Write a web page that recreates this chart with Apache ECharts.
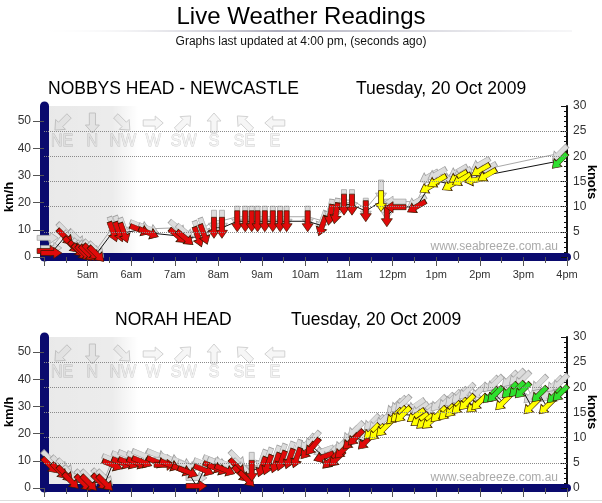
<!DOCTYPE html>
<html>
<head>
<meta charset="utf-8">
<script src="https://cdn.jsdelivr.net/npm/echarts/dist/echarts.min.js"></script>
<style>
html,body{margin:0;padding:0;background:#fff;}
#chart{width:602px;height:503px;}
</style>
</head>
<body>
<div id="chart"></div>
<script>
// ---------- DATA ----------
const hourTicks = [240, 300, 360, 420, 480, 540, 600, 660, 720, 780, 840, 900, 960];
const knotGrid = [5, 10, 15, 20, 25];
const compassLabels = ['NE', 'N', 'NW', 'W', 'SW', 'S', 'SE', 'E'];
const compassDeg = [45, 0, 315, 270, 225, 180, 135, 90];

// NOBBYS HEAD - NEWCASTLE (knots, wind-from direction in degrees)
const nobbysTime = ['4:05','4:10','4:29','4:38','4:45','4:50','4:55','5:00','5:05','5:12',
  '5:35','5:43','5:50','6:12','6:24',
  '7:04','7:14','7:32','7:40','7:54','8:05',
  '8:26','8:37','8:46','8:54','9:04','9:15','9:25','9:34',
  '10:03','10:23','10:34','10:42','10:53','11:04','11:23',
  '11:44','11:52','12:04','12:33',
  '12:50','13:01','13:21','13:30','13:35','13:53','14:01','14:10',
  '15:50'];
const nobbysAvg = [1.2,0.8,4.0,2.4,1.6,1.0,0.8,0.8,1.0,0.6,
  5.0,5.0,4.8,5.4,4.8,
  4.2,3.8,4.0,4.5,5.8,5.8,
  7.1,7.1,7.1,7.1,7.1,7.1,7.1,7.1,
  7.1,6.2,8.4,8.7,10.4,10.4,9.1,
  11.1,8.1,9.9,10.0,
  13.9,15.1,14.4,15.9,15.4,15.3,17.3,16.3,
  19.1];
const nobbysGust = [3.8,1.8,5.2,3.6,3.8,2.0,1.6,1.6,1.8,1.4,
  6.0,6.2,5.8,6.2,5.6,
  5.8,5.0,5.2,5.8,7.2,7.2,
  8.0,8.0,8.0,8.0,8.0,8.0,8.0,8.0,
  8.0,7.2,9.4,9.6,11.3,11.3,9.6,
  13.2,9.4,11.0,11.0,
  16.0,16.5,16.0,17.0,16.5,16.0,18.5,17.5,
  20.6];
const nobbysDir = [270,270,315,315,315,315,315,315,315,315,
  340,340,340,292,292,
  310,310,340,340,0,0,
  0,0,0,0,0,0,0,0,
  0,20,10,10,0,0,0,
  0,0,90,60,
  60,60,60,60,60,80,60,60,
  45];

// NORAH HEAD
const norahTime = ['4:08','4:21','4:29','4:37','4:54','5:02','5:17','5:24',
  '5:34','5:47','5:56','6:08','6:15','6:35','6:46','6:53',
  '7:10','7:18','7:30','7:40','7:53','7:59','8:09',
  '8:26','8:31','8:39','8:46',
  '9:00','9:08','9:19','9:27','9:38','9:48',
  '10:03','10:10','10:25','10:34','10:43','10:51','11:02','11:09','11:23',
  '11:31','11:38','11:48',
  '12:02','12:08','12:14','12:32','12:37','12:44','12:52',
  '13:03','13:14','13:23','13:32','13:42','13:53','13:59',
  '14:15','14:21','14:32','14:41','14:51','14:59','15:11','15:22','15:32','15:43','15:51'];
const norahAvg = [4.5,3.4,2.8,1.4,1.0,1.0,1.2,1.0,
  4.6,5.0,5.0,5.0,5.2,5.2,4.6,4.6,
  3.6,3.2,0.4,3.6,4.2,3.8,3.6,
  4.2,2.8,1.8,3.4,
  4.2,4.6,5.0,5.4,5.8,6.0,
  7.4,8.2,6.2,5.4,5.8,7.4,9.2,10.0,9.2,
  11.2,11.0,11.8,
  14.2,14.6,14.6,14.4,13.6,13.2,13.2,
  14.6,15.0,15.6,16.2,17.0,16.4,17.0,
  18.4,18.6,17.0,19.4,19.6,19.4,16.2,18.6,16.2,18.4,18.8];
const norahGust = [5.8,4.8,4.2,2.8,2.0,2.0,2.2,2.0,
  5.6,6.2,6.4,6.2,6.6,6.6,5.6,5.8,
  5.0,4.4,2.0,4.8,5.4,5.0,4.8,
  5.8,4.2,3.4,5.0,
  5.6,6.0,6.4,6.8,7.2,7.6,
  9.0,9.6,7.4,6.8,7.2,8.8,10.6,11.6,10.6,
  13.0,12.8,13.6,
  16.0,16.6,16.8,16.4,15.6,15.2,15.4,
  16.8,17.2,17.8,18.4,19.2,18.6,19.2,
  20.6,20.8,19.2,21.6,22.0,21.6,18.4,20.8,18.6,20.6,21.0];
const norahDir = [315,315,315,315,315,315,315,315,
  292,292,292,292,292,292,270,292,
  292,292,270,292,292,292,292,
  315,315,315,0,
  20,20,20,20,20,20,
  40,40,70,45,45,45,45,45,45,
  45,45,45,
  45,45,45,55,55,50,50,
  45,45,45,45,45,50,45,
  45,45,45,45,45,45,45,45,45,45,45];

// ---------- BUILD ----------
const KMH_PER_KNOT = 1.852;
const arrowPath = 'path://M5.5,0 L11,8 L8,8 L8,21 L3,21 L3,8 L0,8 Z';
function toMin(s) { const p = s.split(':'); return (+p[0]) * 60 + (+p[1]); }
function speedColor(k) { return k >= 18 ? '#2ee02e' : (k >= 11 ? '#ffff00' : '#e00a0a'); }
function rot(d) { return -(d + 180); }
function hourLabel(v) {
  const h = v / 60;
  if (h < 12) return h + 'am';
  if (h === 12) return '12pm';
  return (h - 12) + 'pm';
}

const grids = [
  { left: 44, right: 35, top: 106, height: 151, containLabel: false, outerBoundsMode: 'none' },
  { left: 44, right: 35, top: 337, height: 151, containLabel: false, outerBoundsMode: 'none' }
];

function xAxisFor(i) {
  return {
    type: 'value', gridIndex: i, min: hourTicks[0], max: hourTicks[hourTicks.length - 1],
    interval: 60, offset: 2, z: 1,
    axisLine: { lineStyle: { color: '#0a0a6e', width: 8 } },
    axisTick: { length: 9, lineStyle: { color: '#555', width: 1 } },
    minorTick: { show: true, splitNumber: 2, length: 6, lineStyle: { color: '#555', width: 1 } },
    axisLabel: { show: i === 0, showMinLabel: false, formatter: hourLabel, color: '#333', fontSize: 11,
      fontFamily: 'Liberation Sans, Arial, sans-serif', margin: 10 },
    splitLine: { show: false }
  };
}
function kmhAxisFor(i) {
  return {
    type: 'value', gridIndex: i, position: 'left', min: 0, max: 30 * KMH_PER_KNOT, interval: 10, z: 1,
    axisLine: { show: true, lineStyle: { color: '#0a0a6e', width: 9 } },
    axisTick: { show: true, length: 11, lineStyle: { color: '#555' } },
    axisLabel: { showMaxLabel: false, color: '#333', fontSize: 12, margin: 13,
      fontFamily: 'Liberation Sans, Arial, sans-serif' },
    splitLine: { show: false }
  };
}
function knotAxisFor(i) {
  return {
    type: 'value', gridIndex: i, position: 'right', min: 0, max: 30, interval: 5, z: 1,
    axisLine: { show: true, lineStyle: { color: '#111', width: 2 } },
    axisTick: { show: true, inside: true, length: 6, lineStyle: { color: '#111' } },
    minorTick: { show: true, splitNumber: 5, length: 3, lineStyle: { color: '#111' } },
    axisLabel: { color: '#333', fontSize: 12, margin: 6, fontFamily: 'Liberation Sans, Arial, sans-serif' },
    splitLine: { show: false }
  };
}

function stationSeries(i, times, avg, gust, dir) {
  const xi = i, yi = i * 2 + 1;
  const gustData = times.map((t, k) => ({ value: [toMin(t), gust[k]], symbolRotate: rot(dir[k]) }));
  const avgData = times.map((t, k) => ({
    value: [toMin(t), avg[k]], symbolRotate: rot(dir[k]),
    itemStyle: { color: speedColor(avg[k]) }
  }));
  return [
    { // night shading + dotted knot grid
      type: 'line', xAxisIndex: xi, yAxisIndex: yi, data: [], z: 0, silent: true,
      markArea: { silent: true, data: [[{ xAxis: hourTicks[0] }, { xAxis: 370 }]],
        itemStyle: { color: new echarts.graphic.LinearGradient(0, 0, 1, 0, [
          { offset: 0, color: 'rgba(0,0,0,0.085)' }, { offset: 0.72, color: 'rgba(0,0,0,0.075)' }, { offset: 1, color: 'rgba(0,0,0,0)' }]) } },
      markLine: { silent: true, symbol: ['none', 'none'], label: { show: false },
        lineStyle: { type: 'dotted', color: '#8a8a8a', width: 1 },
        data: knotGrid.map(v => ({ yAxis: v })) }
    },
    { // gusts
      type: 'line', xAxisIndex: xi, yAxisIndex: yi, z: 2, data: gustData, clip: false,
      symbol: arrowPath, symbolSize: [11, 21], showAllSymbol: true,
      lineStyle: { color: '#a8a8a8', width: 1 },
      itemStyle: { color: '#dcdcdc', borderColor: '#a0a0a0', borderWidth: 0.7 },
      emphasis: { disabled: true }, silent: true
    },
    { // average
      type: 'line', xAxisIndex: xi, yAxisIndex: yi, z: 3, data: avgData, clip: false,
      symbol: arrowPath, symbolSize: [11, 21], showAllSymbol: true,
      lineStyle: { color: '#111', width: 1 },
      itemStyle: { borderColor: '#3a1a00', borderWidth: 0.7 },
      emphasis: { disabled: true }, silent: true
    }
  ];
}

// decorative compass watermark (graphic)
function arrowPoly(cx, cy, deg, len, wid) {
  const pts = [[0, -len / 2], [wid / 2, -len / 2 + len * 0.4], [wid * 0.22, -len / 2 + len * 0.4],
    [wid * 0.22, len / 2], [-wid * 0.22, len / 2], [-wid * 0.22, -len / 2 + len * 0.4], [-wid / 2, -len / 2 + len * 0.4]];
  const a = (deg + 180) * Math.PI / 180;
  return pts.map(p => [cx + p[0] * Math.cos(a) - p[1] * Math.sin(a), cy + p[0] * Math.sin(a) + p[1] * Math.cos(a)]);
}
function compassGraphics(top) {
  const els = [];
  compassLabels.forEach((lab, k) => {
    const cx = 62 + k * 30.4;
    els.push({ type: 'polygon', z: 1, silent: true, shape: { points: arrowPoly(cx, top + 17, compassDeg[k], 20, 14) },
      style: { fill: '#f6f6f6', stroke: '#d2d2d2', lineWidth: 1 } });
    els.push({ type: 'text', z: 1, silent: true, style: { x: cx, y: top + 36, text: lab, fill: '#f2f2f2', stroke: '#cfcfcf',
      lineWidth: 0.8, font: '16px "Liberation Sans", Arial, sans-serif', textAlign: 'center', textVerticalAlign: 'middle' } });
  });
  return els;
}
function txt(x, y, text, font, opts) {
  return Object.assign({ type: 'text', z: 5, silent: true, x: x, y: y,
    style: Object.assign({ x: 0, y: 0, text: text, font: font, fill: '#000', textAlign: 'left', textVerticalAlign: 'middle' }, (opts && opts.style) || {}) },
    (opts && opts.el) || {});
}
const F = '"Liberation Sans", Arial, sans-serif';

const graphics = [
  txt(301, 17, 'Live Weather Readings', '24px ' + F, { style: { textAlign: 'center' } }),
  { type: 'line', z: 5, silent: true, shape: { x1: 35, y1: 31, x2: 572, y2: 31 },
    style: { lineWidth: 1, stroke: new echarts.graphic.LinearGradient(0, 0, 1, 0, [
      { offset: 0, color: 'rgba(255,255,255,0)' }, { offset: 0.45, color: '#5a5a78' }, { offset: 1, color: 'rgba(200,200,210,0.3)' }]) } },
  { type: 'line', z: 5, silent: true, shape: { x1: 0, y1: 500.5, x2: 602, y2: 500.5 },
    style: { lineWidth: 1, stroke: '#dddddd' } },
  txt(301, 42, 'Graphs last updated at 4:00 pm, (seconds ago)', '12px ' + F, { style: { textAlign: 'center', fill: '#111' } }),
  txt(48, 89, 'NOBBYS HEAD - NEWCASTLE', '17.5px ' + F),
  txt(356, 89, 'Tuesday, 20 Oct 2009', '17.5px ' + F),
  txt(115, 320, 'NORAH HEAD', '17.5px ' + F),
  txt(291, 320, 'Tuesday, 20 Oct 2009', '17.5px ' + F),
  txt(9, 197, 'km/h', 'bold 13px ' + F, { el: { rotation: Math.PI / 2 }, style: { textAlign: 'center' } }),
  txt(9, 412, 'km/h', 'bold 13px ' + F, { el: { rotation: Math.PI / 2 }, style: { textAlign: 'center' } }),
  txt(592, 182, 'knots', 'bold 13px ' + F, { el: { rotation: -Math.PI / 2 }, style: { textAlign: 'center' } }),
  txt(592, 412, 'knots', 'bold 13px ' + F, { el: { rotation: -Math.PI / 2 }, style: { textAlign: 'center' } }),
  txt(558, 247, 'www.seabreeze.com.au', '12px ' + F, { style: { textAlign: 'right', fill: '#aaaaaa' } }),
  txt(558, 478, 'www.seabreeze.com.au', '12px ' + F, { style: { textAlign: 'right', fill: '#aaaaaa' } })
].concat(compassGraphics(106), compassGraphics(337));

const chart = echarts.init(document.getElementById('chart'), null, { renderer: 'canvas' });
chart.setOption({
  animation: false,
  backgroundColor: '#fff',
  grid: grids,
  xAxis: [xAxisFor(0), xAxisFor(1)],
  yAxis: [kmhAxisFor(0), knotAxisFor(0), kmhAxisFor(1), knotAxisFor(1)],
  series: [].concat(
    stationSeries(0, nobbysTime, nobbysAvg, nobbysGust, nobbysDir),
    stationSeries(1, norahTime, norahAvg, norahGust, norahDir)
  ),
  graphic: { elements: graphics }
});
</script>
</body>
</html>
